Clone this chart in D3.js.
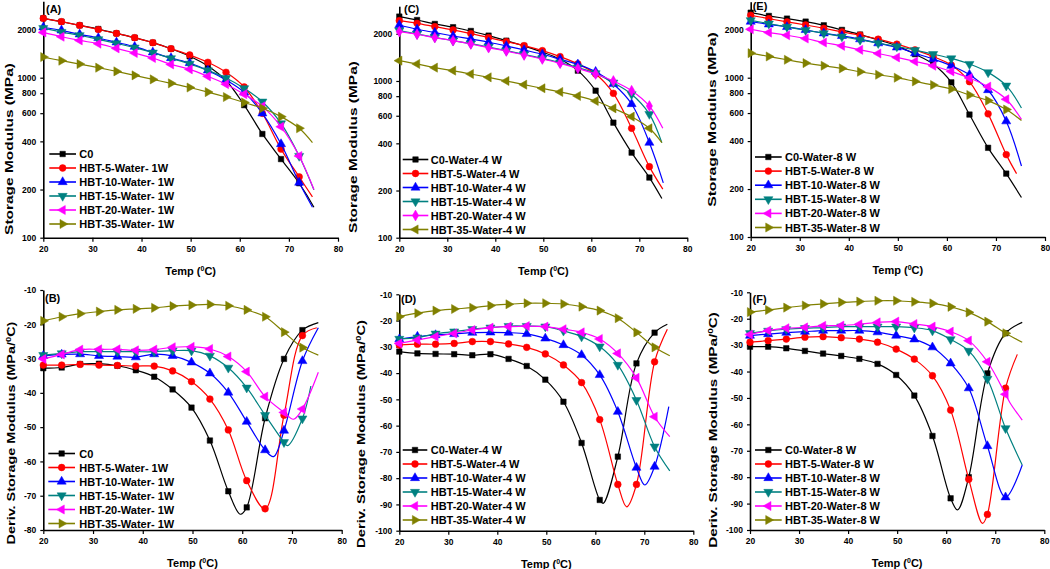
<!DOCTYPE html>
<html><head><meta charset="utf-8">
<script src="https://cdn.jsdelivr.net/npm/d3@7"></script>
<style>
body{margin:0;background:#fff}
svg{display:block}
text{font-family:"Liberation Sans",Arial,sans-serif;font-weight:bold;fill:#000}
</style>
</head><body><svg id="c" width="1050" height="569"></svg>
<script>
// ---------- shared data ----------
const temps = [20,23.7,27.4,31.2,34.9,38.6,42.3,46.0,49.8,53.5,57.2,60.9,64.6,68.4,72.1];
const seriesColors = ["#000000","#ff0000","#0000ff","#008080","#ff00ff","#808000"];
const xTicks = [20,30,40,50,60,70,80];
const logTicks = [100,200,400,600,800,1000,2000];
const derivTicksB = [-10,-20,-30,-40,-50,-60,-70,-80];
const derivTicksDF = [-10,-20,-30,-40,-50,-60,-70,-80,-90,-100];
const labels1W = ["C0","HBT-5-Water- 1W","HBT-10-Water- 1W","HBT-15-Water- 1W","HBT-20-Water- 1W","HBT-35-Water- 1W"];
const labels4W = ["C0-Water-4 W","HBT-5-Water-4 W","HBT-10-Water-4 W","HBT-15-Water-4 W","HBT-20-Water-4 W","HBT-35-Water-4 W"];
const labels8W = ["C0-Water-8 W","HBT-5-Water-8 W","HBT-10-Water-8 W","HBT-15-Water-8 W","HBT-20-Water-8 W","HBT-35-Water-8 W"];
const shapesStd = ["square","circle","triUp","triDown","triLeft","triRight"];
const shapesC = ["square","circle","triUp","triDown","diamond","triLeft"];

// ---------- Panel A (storage modulus, 1W) : values at temps + end value ----------
const A_C0  = [2350,2239,2124,2014,1892,1778,1655,1517,1360,1183,960,674,445,310,219,155];
const A_H5  = [2350,2239,2124,2000,1892,1778,1655,1517,1386,1248,1081,875,599,358,240,180];
const A_H10 = [2066,1976,1866,1771,1663,1562,1440,1327,1235,1110,967,810,599,385,221,155];
const A_H15 = [2040,1929,1841,1737,1639,1540,1432,1321,1220,1110,995,858,708,518,324,199];
const A_H20 = [1919,1803,1710,1631,1525,1426,1327,1211,1128,1020,911,789,662,494,324,200];
const A_H35 = [1346,1277,1217,1155,1095,1034,976,922,868,813,757,700,644,571,483,393];
const A_endT = [75.1,74.8,74.8,75.1,75.1,74.8];

// ---------- Panel C (storage modulus, 4W) ----------
const C_C0  = [2575,2449,2311,2203,2085,1947,1808,1672,1531,1375,1164,867,542,349,242,178];
const C_H5  = [2427,2334,2223,2117,2006,1891,1783,1681,1562,1430,1284,1108,834,499,284,204];
const C_H10 = [2275,2137,2036,1937,1854,1767,1673,1578,1480,1375,1277,1147,957,713,404,224];
const C_H15 = [2096,1995,1900,1808,1730,1648,1562,1480,1395,1309,1217,1119,975,822,615,404];
const C_H20 = [2065,1986,1891,1808,1722,1632,1553,1465,1381,1296,1204,1108,1000,867,692,499];
const C_H35 = [1348,1284,1216,1164,1108,1055,1000,947,898,851,802,745,669,592,499,404];
const C_endT = [74.7,74.9,75.0,74.7,74.9,74.7];

// ---------- Panel E (storage modulus, 8W) ----------
const E_C0  = [2559,2441,2349,2250,2133,1995,1866,1728,1585,1406,1218,935,587,363,250,177];
const E_H5  = [2465,2349,2240,2143,2043,1939,1848,1745,1624,1496,1359,1200,944,593,329,250];
const E_H10 = [2250,2163,2084,1995,1900,1830,1745,1647,1549,1426,1308,1189,1044,837,533,279];
const E_H15 = [2293,2185,2084,1986,1900,1812,1728,1647,1570,1489,1406,1321,1218,1080,891,646];
const E_H20 = [2014,1920,1848,1762,1663,1585,1496,1419,1340,1265,1189,1095,995,879,732,547];
const E_H35 = [1426,1359,1296,1235,1189,1144,1090,1044,1000,948,900,849,779,718,631,538];
const E_endT = [75.2,74.2,75.2,75.2,75.2,75.2];

// ---------- Panel B (derivative, 1W) ----------
const B_C0  = [-32.8,-32.6,-31.6,-31.5,-32.1,-33.4,-35.3,-39.0,-44.3,-53.9,-68.7,-73.4,-47.4,-30.1,-21.7,-19.5];
const B_H5  = [-31.9,-31.9,-31.7,-31.9,-32.0,-32.2,-32.2,-33.6,-36.7,-41.8,-50.8,-65.6,-73.8,-46.5,-23.3,-21.0];
const B_H10 = [-29.2,-28.8,-28.7,-29.2,-29.4,-29.6,-28.7,-29.2,-31.1,-34.3,-39.9,-48.4,-56.7,-51.0,-30.7,-21.0];
const B_H15 = [-29.0,-28.5,-28.0,-28.0,-28.0,-28.0,-28.0,-27.7,-27.7,-29.2,-32.7,-38.5,-46.5,-54.4,-47.5,-38.0];
const B_H20 = [-30.1,-28.8,-27.4,-27.3,-27.3,-27.6,-27.4,-26.7,-26.6,-27.2,-29.4,-33.8,-41.1,-45.7,-44.7,-34.0];
const B_H35 = [-19.0,-17.8,-16.9,-16.3,-15.8,-15.5,-15.2,-14.7,-14.4,-14.2,-14.6,-15.8,-17.8,-22.3,-26.8,-29.0];
const B_endT = [75.3,75.0,75.3,73.8,75.3,75.3];
const B_extra = [[[59.6,-75.4]],[],[[66.3,-58.6]],[[69.1,-55.4]],[[70.3,-47.7]],[]];

// ---------- Panel D (derivative, 4W) ----------
const D_C0  = [-31.8,-32.5,-32.7,-32.8,-33.2,-32.8,-34.6,-37.3,-42.5,-50.9,-66.6,-88.3,-71.8,-36.3,-24.6,-21.4];
const D_H5  = [-29.3,-29.0,-29.0,-28.7,-28.0,-28.0,-28.9,-30.2,-32.7,-36.9,-43.6,-57.7,-82.4,-82.4,-35.7,-23.3];
const D_H10 = [-27.1,-26.1,-25.5,-25.1,-24.6,-24.5,-24.6,-25.1,-26.8,-29.3,-33.1,-40.7,-54.7,-76.0,-75.6,-52.8];
const D_H15 = [-27.0,-26.5,-25.0,-24.2,-23.3,-22.7,-22.1,-22.1,-22.3,-23.9,-26.1,-29.9,-36.9,-50.3,-68.0,-77.2];
const D_H20 = [-28.7,-27.4,-26.1,-24.9,-23.6,-22.7,-22.3,-22.1,-22.3,-23.3,-24.5,-27.0,-32.5,-41.8,-56.6,-64.2];
const D_H35 = [-18.5,-17.2,-16.2,-15.6,-15.1,-14.3,-13.8,-13.4,-13.4,-13.7,-14.7,-16.2,-19.1,-24.5,-30.2,-33.4];
const D_endT = [74.7,74.7,75.0,75.2,75.2,75.2];
const D_extra = [[[61.6,-89.6]],[[66.4,-90.9]],[[70.1,-82.6]],[],[],[]];

// ---------- Panel F (derivative, 8W) ----------
const F_C0  = [-30.6,-30.6,-31.2,-32.2,-33.2,-34.1,-35.2,-37.1,-41.3,-49.1,-64.4,-88.0,-80.0,-40.7,-25.5,-21.4];
const F_H5  = [-28.9,-28.3,-27.7,-27.0,-26.8,-27.2,-27.7,-28.9,-31.5,-35.3,-41.6,-54.6,-80.8,-94.1,-46.3,-33.5];
const F_H10 = [-26.4,-25.8,-25.3,-24.9,-24.5,-24.5,-24.5,-25.1,-26.4,-27.8,-30.8,-36.9,-46.3,-68.2,-87.6,-75.4];
const F_H15 = [-25.5,-24.6,-24.0,-23.6,-23.4,-23.0,-23.0,-23.0,-23.0,-23.4,-24.5,-27.8,-32.2,-42.8,-61.5,-75.4];
const F_H20 = [-26.0,-24.5,-23.6,-23.3,-22.7,-22.6,-22.1,-21.4,-21.1,-22.0,-23.0,-24.9,-28.3,-36.3,-48.6,-58.4];
const F_H35 = [-17.5,-16.7,-15.8,-15.0,-14.4,-13.8,-13.5,-13.2,-13.2,-13.6,-14.2,-15.5,-17.6,-21.1,-25.5,-28.9];
const F_endT = [75.5,74.5,75.5,75.5,75.5,75.5];
const F_extra = [[[62.3,-92.4]],[[67.4,-97.5]],[],[],[[73.0,-51.8]],[]];

// ---------- layout ----------
const panels = [
  {tag:"(A)", series:[A_C0,A_H5,A_H10,A_H15,A_H20,A_H35], endT:A_endT, extra:null, labels:labels1W, shapes:shapesStd,
   log:true, x0:43.3, x1:338, yb:237.7, yt:1.35, tagX:46, tagY:12.5,
   lx0:49.3, lx1:76, ltx:79.3, ly:154, lstep:14,
   yTitle:"Storage Modulus (MPa)", ytX:12.5, ytY:149, ytLen:172},
  {tag:"(C)", series:[C_C0,C_H5,C_H10,C_H15,C_H20,C_H35], endT:C_endT, extra:null, labels:labels4W, shapes:shapesC,
   log:true, x0:399.3, x1:687.3, yb:237.7, yt:6.2, tagX:404, tagY:13,
   lx0:402.7, lx1:428.3, ltx:430.7, ly:159.5, lstep:14,
   yTitle:"Storage Modulus (MPa)", ytX:357, ytY:147, ytLen:172},
  {tag:"(E)", series:[E_C0,E_H5,E_H10,E_H15,E_H20,E_H35], endT:E_endT, extra:null, labels:labels8W, shapes:shapesStd,
   log:true, x0:750.7, x1:1045, yb:237, yt:1.7, tagX:752.7, tagY:9.5,
   lx0:755, lx1:781.7, ltx:785, ly:157, lstep:14.1,
   yTitle:"Storage Modulus (MPa)", ytX:716, ytY:119.5, ytLen:175},
  {tag:"(B)", series:[B_C0,B_H5,B_H10,B_H15,B_H20,B_H35], endT:B_endT, extra:B_extra, labels:labels1W, shapes:shapesStd,
   log:false, ymin:-80, yTicks:derivTicksB, x0:43.3, x1:341.7, yb:530, yt:290, tagX:45, tagY:301.5,
   lx0:48.3, lx1:75, ltx:79.3, ly:453.5, lstep:14,
   yTitle:"Deriv. Storage Modulus (MPa/", ytX:15, ytY:433, ytLen:223},
  {tag:"(D)", series:[D_C0,D_H5,D_H10,D_H15,D_H20,D_H35], endT:D_endT, extra:D_extra, labels:labels4W, shapes:shapesStd,
   log:false, ymin:-100, yTicks:derivTicksDF, x0:399.3, x1:693.3, yb:530.7, yt:294.3, tagX:401, tagY:302.5,
   lx0:402.7, lx1:427.3, ltx:430.7, ly:450, lstep:14,
   yTitle:"Deriv. Storage Modulus (MPa/", ytX:364.5, ytY:434, ytLen:228},
  {tag:"(F)", series:[F_C0,F_H5,F_H10,F_H15,F_H20,F_H35], endT:F_endT, extra:F_extra, labels:labels8W, shapes:shapesStd,
   log:false, ymin:-100, yTicks:derivTicksDF, x0:750, x1:1044.3, yb:530, yt:292.3, tagX:752.5, tagY:302.5,
   lx0:755, lx1:781.7, ltx:785, ly:450, lstep:14,
   yTitle:"Deriv. Storage Modulus (MPa/", ytX:716.5, ytY:430, ytLen:236}
];

const symMap = {
  square:[d3.symbolSquare,30,0], circle:[d3.symbolCircle,36,0], diamond:[d3.symbolDiamond,34,0],
  triUp:[d3.symbolTriangle,36,0], triDown:[d3.symbolTriangle,36,180],
  triLeft:[d3.symbolTriangle,36,-90], triRight:[d3.symbolTriangle,36,90]
};
function drawMarker(g, shape, cx, cy, color){
  const s = symMap[shape];
  g.append("path").attr("d", d3.symbol().type(s[0]).size(s[1])())
   .attr("transform", `translate(${cx},${cy}) rotate(${s[2]})`)
   .attr("fill", color).attr("stroke", color).attr("stroke-width", 0.5);
}

const svg = d3.select("#c");
const line = d3.line().curve(d3.curveCatmullRom.alpha(0.5));

panels.forEach(p => {
  const g = svg.append("g");
  const x = d3.scaleLinear().domain([20,80]).range([p.x0,p.x1]);
  const y = p.log ? d3.scaleLog().domain([100,3000]).range([p.yb,p.yt])
                  : d3.scaleLinear().domain([p.ymin,-10]).range([p.yb,p.yt]);

  // axes
  const gx = g.append("g").attr("transform",`translate(0,${p.yb})`)
    .call(d3.axisBottom(x).tickValues(xTicks).tickSize(4).tickSizeOuter(0).tickPadding(4).tickFormat(d=>String(d)));
  const gy = g.append("g").attr("transform",`translate(${p.x0},0)`)
    .call(d3.axisLeft(y).tickValues(p.log ? logTicks : p.yTicks).tickSize(3).tickSizeOuter(0).tickPadding(4).tickFormat(d=>String(d)));
  [gx,gy].forEach(a=>{
    a.select(".domain").attr("stroke","#000").attr("stroke-width",1.6);
    a.selectAll(".tick line").attr("stroke","#000").attr("stroke-width",1.2);
    a.selectAll(".tick text").attr("font-size",8.5).attr("font-family","Liberation Sans, Arial, sans-serif").attr("font-weight","bold").attr("fill","#000");
  });

  // series
  p.series.forEach((vals,i)=>{
    const color = seriesColors[i];
    let pts = temps.map((t,k)=>[t, vals[k]]);
    pts.push([p.endT[i], vals[temps.length]]);
    if (p.extra) pts = pts.concat(p.extra[i]);
    pts.sort((a,b)=>a[0]-b[0]);
    g.append("path").attr("d", line(pts.map(d=>[x(d[0]), y(d[1])])))
      .attr("fill","none").attr("stroke",color).attr("stroke-width",1.2);
    const mg = g.append("g");
    temps.forEach((t,k)=> drawMarker(mg, p.shapes[i], x(t), y(vals[k]), color));
  });

  // legend
  p.labels.forEach((lab,i)=>{
    const ry = p.ly + i*p.lstep, color = seriesColors[i];
    g.append("line").attr("x1",p.lx0).attr("x2",p.lx1).attr("y1",ry).attr("y2",ry)
      .attr("stroke",color).attr("stroke-width",1.6);
    drawMarker(g, p.shapes[i], (p.lx0+p.lx1)/2, ry, color);
    g.append("text").attr("x",p.ltx).attr("y",ry+4).attr("font-size",11).text(lab);
  });

  // panel tag
  g.append("text").attr("x",p.tagX).attr("y",p.tagY).attr("font-size",11).text(p.tag);

  // x title
  const xt = g.append("text").attr("x",(p.x0+p.x1)/2).attr("y",p.yb+37).attr("font-size",11).attr("text-anchor","middle");
  xt.append("tspan").text("Temp (");
  xt.append("tspan").attr("font-size",7).attr("dy",-4).text("0");
  xt.append("tspan").attr("dy",4).text("C)");

  // y title (stretched along its length to match the reference)
  const yt = g.append("text").attr("font-size",11.5).attr("text-anchor","middle");
  yt.append("tspan").text(p.yTitle);
  if (!p.log){
    yt.append("tspan").attr("font-size",7.5).attr("dy",-4).text("0");
    yt.append("tspan").attr("dy",4).text("C)");
  }
  const len = yt.node().getComputedTextLength();
  const sx = p.ytLen/len;
  yt.attr("transform",`translate(${p.ytX},${p.ytY}) rotate(-90) scale(${sx},1)`);
});
</script>
</body></html>
